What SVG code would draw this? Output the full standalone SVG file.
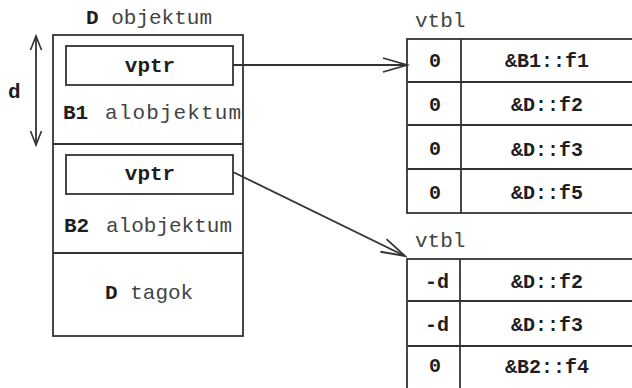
<svg xmlns="http://www.w3.org/2000/svg" width="632" height="388" viewBox="0 0 632 388">
  <style>
    .ln { fill: none; stroke: #333; stroke-width: 1.8; }
    .t { font-family: "Liberation Mono", "Courier New", monospace; font-size: 21px; fill: #444; }
    .b { font-weight: bold; fill: #1e1e1e; }
    .c { font-family: "Liberation Mono", "Courier New", monospace; font-size: 20px; font-weight: bold; fill: #1e1e1e; text-anchor: middle; }
    .m { text-anchor: middle; }
  </style>
  <defs>
    <marker id="open" markerUnits="userSpaceOnUse" viewBox="-26 -10 30 20" markerWidth="30" markerHeight="20" refX="0" refY="0" orient="auto-start-reverse">
      <path d="M-24,-7 L0,0 L-24,7" fill="none" stroke="#333" stroke-width="1.8"/>
    </marker>
    <marker id="dim" markerUnits="userSpaceOnUse" viewBox="-16 -8 20 16" markerWidth="20" markerHeight="16" refX="0" refY="0" orient="auto-start-reverse">
      <path d="M-14,-5.5 L0,0 L-14,5.5" fill="none" stroke="#333" stroke-width="1.6"/>
    </marker>
  </defs>
  <rect width="632" height="388" fill="#fff"/>

  <!-- D object layout -->
  <g id="d-object">
    <text class="t" x="86" y="24"><tspan class="b">D</tspan> objektum</text>
    <rect class="ln" x="53" y="35" width="190" height="301"/>
    <line class="ln" x1="53" y1="144" x2="243" y2="144"/>
    <line class="ln" x1="53" y1="253" x2="243" y2="253"/>
  </g>

  <g id="b1-subobject">
    <rect class="ln" x="66" y="46" width="167" height="39"/>
    <text class="t b m" x="150" y="72">vptr</text>
    <text class="t b" x="63" y="119">B1</text>
    <text class="t" x="105" y="119" textLength="136" lengthAdjust="spacing">alobjektum</text>
  </g>

  <g id="b2-subobject">
    <rect class="ln" x="66" y="155" width="167" height="39"/>
    <text class="t b m" x="150" y="180">vptr</text>
    <text class="t b" x="64" y="232">B2</text>
    <text class="t" x="106" y="232">alobjektum</text>
  </g>

  <g id="d-members">
    <text class="t" x="105" y="299"><tspan class="b">D</tspan> tagok</text>
  </g>

  <!-- offset d between the two sub-objects -->
  <g id="offset-d">
    <line class="ln" x1="36" y1="36" x2="36" y2="145" stroke-width="1.6" marker-start="url(#dim)" marker-end="url(#dim)"/>
    <text class="t b" x="8" y="98">d</text>
  </g>

  <!-- vtbl of B1 in D -->
  <g id="vtbl-b1">
    <text class="t" x="415" y="27">vtbl</text>
    <rect class="ln" x="407" y="39" width="240" height="174"/>
    <line class="ln" x1="461" y1="39" x2="461" y2="213"/>
    <line class="ln" x1="407" y1="82" x2="640" y2="82"/>
    <line class="ln" x1="407" y1="125" x2="640" y2="125"/>
    <line class="ln" x1="407" y1="169" x2="640" y2="169"/>
    <text class="c" x="435" y="67">0</text>
    <text class="c" x="547" y="67">&amp;B1::f1</text>
    <text class="c" x="435" y="111">0</text>
    <text class="c" x="547" y="111">&amp;D::f2</text>
    <text class="c" x="435" y="155">0</text>
    <text class="c" x="547" y="156">&amp;D::f3</text>
    <text class="c" x="435" y="199">0</text>
    <text class="c" x="547" y="199">&amp;D::f5</text>
  </g>

  <!-- vtbl of B2 in D -->
  <g id="vtbl-b2">
    <text class="t" x="415" y="247">vtbl</text>
    <rect class="ln" x="407" y="259" width="240" height="140"/>
    <line class="ln" x1="460" y1="259" x2="460" y2="399"/>
    <line class="ln" x1="407" y1="301" x2="640" y2="301"/>
    <line class="ln" x1="407" y1="346" x2="640" y2="346"/>
    <text class="c" x="437" y="288">-d</text>
    <text class="c" x="547" y="288">&amp;D::f2</text>
    <text class="c" x="437" y="331">-d</text>
    <text class="c" x="547" y="331">&amp;D::f3</text>
    <text class="c" x="435" y="372">0</text>
    <text class="c" x="547" y="373">&amp;B2::f4</text>
  </g>

  <!-- vptr links -->
  <g id="connectors">
    <line class="ln" x1="233" y1="65" x2="407" y2="65" marker-end="url(#open)"/>
    <line class="ln" x1="233" y1="172" x2="405" y2="256" marker-end="url(#open)"/>
  </g>
</svg>
